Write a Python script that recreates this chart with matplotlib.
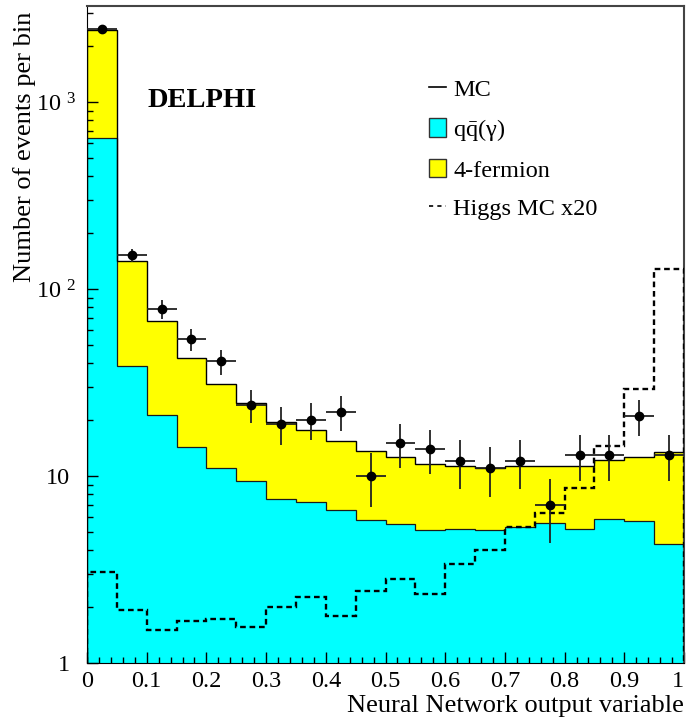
import matplotlib
matplotlib.use("Agg")
import matplotlib.pyplot as plt
import matplotlib.patches as mpatches
import matplotlib.lines as mlines
import matplotlib.transforms as mtransforms
from matplotlib.ticker import FixedLocator, FixedFormatter, LogLocator, NullFormatter, MultipleLocator
import numpy as np

plt.rcParams["font.family"] = ["Liberation Serif", "DejaVu Serif"]
plt.rcParams["mathtext.fontset"] = "custom"
plt.rcParams["mathtext.rm"] = "Liberation Serif"
plt.rcParams["mathtext.it"] = "Liberation Serif:italic"

# NN output bins (20 bins of 0.05)
bin_edges = np.linspace(0.0, 1.0, 21)

# background MC, stacked: qq(gamma) underneath, 4-fermion on top
qq_gamma = [642, 38.7, 21.2, 14.3, 11.0, 9.4, 7.5, 7.3, 6.55, 5.8,
            5.52, 5.14, 5.22, 5.14, 5.32, 5.59, 5.22, 5.89, 5.77, 4.33]
four_fermion = [1785, 102.3, 46.2, 28.5, 20.0, 15.1, 12.0, 10.3, 8.75, 7.8,
                7.18, 6.41, 6.08, 5.86, 5.98, 5.76, 6.13, 6.31, 6.93, 9.07]

# signal MC scaled x20
higgs_x20 = [3.08, 1.92, 1.50, 1.67, 1.72, 1.56, 1.99, 2.25, 1.78, 2.44,
             2.82, 2.34, 3.37, 4.0, 5.36, 6.32, 8.6, 14.5, 29.1, 128]

# data
data_x = [0.025, 0.075, 0.125, 0.175, 0.225, 0.275, 0.325, 0.375, 0.425, 0.475,
          0.525, 0.575, 0.625, 0.675, 0.725, 0.775, 0.825, 0.875, 0.925, 0.975]
data_n = [2450, 152, 78, 54, 41, 24, 19, 20, 22, 10,
          15, 14, 12, 11, 12, 7, 13, 13, 21, 13]
data_err = [49, 12.3, 8.8, 7.3, 6.4, 4.9, 4.4, 4.5, 4.7, 3.2,
            3.9, 3.7, 3.5, 3.3, 3.5, 2.6, 3.6, 3.6, 4.6, 3.6]

y_ticks = [1, 10, 100, 1000]
y_ticklabels = ["1", "10", r"$\mathregular{10^{\ \,2}}$", r"$\mathregular{10^{\ \,3}}$"]
x_ticks = [0, 0.1, 0.2, 0.3, 0.4, 0.5, 0.6, 0.7, 0.8, 0.9, 1.0]
x_ticklabels = ["0", "0.1", "0.2", "0.3", "0.4", "0.5", "0.6", "0.7", "0.8", "0.9", "1"]

YMIN, YMAX = 1.0, 3260.0

fig = plt.figure(figsize=(6.87, 7.22), dpi=100)
ax = fig.add_axes([87 / 687, 1 - 663 / 722, 597 / 687, 657 / 722])

qq = np.array(qq_gamma)
total = qq + np.array(four_fermion)

ax.stairs(qq, bin_edges, baseline=YMIN, fill=True, color="#00FFFF", zorder=1)
ax.stairs(total, bin_edges, baseline=qq, fill=True, color="#FFFF00", zorder=1)
ax.stairs(qq, bin_edges, baseline=None, color="#1a1a1a", lw=0.9, zorder=2)
ax.stairs(total, bin_edges, baseline=YMIN, color="black", lw=1.0, zorder=2)

ax.stairs(higgs_x20, bin_edges, baseline=YMIN, color="black", lw=1.7,
          linestyle=(0, (2.4, 1.6)), zorder=3)

ax.errorbar(data_x, data_n, yerr=data_err, xerr=0.025, fmt="o", color="black",
            ecolor="#222222", elinewidth=1.3, capsize=0, markersize=6, zorder=4)

ax.set_xlim(0, 1)
ax.set_ylim(YMIN, YMAX)
ax.set_yscale("log")

ax.yaxis.set_major_locator(FixedLocator(y_ticks))
ax.yaxis.set_major_formatter(FixedFormatter(y_ticklabels))
ax.yaxis.set_minor_locator(LogLocator(base=10, subs=np.arange(2, 10)))
ax.yaxis.set_minor_formatter(NullFormatter())
ax.xaxis.set_major_locator(FixedLocator(x_ticks))
ax.xaxis.set_major_formatter(FixedFormatter(x_ticklabels))
ax.xaxis.set_minor_locator(MultipleLocator(0.02))

ax.tick_params(which="both", direction="in", top=False, right=False, labelsize=17.5)
ax.tick_params(which="major", length=8, width=1)
ax.tick_params(which="minor", length=4, width=1)
ax.tick_params(axis="x", pad=6)
ax.tick_params(axis="y", pad=12)
ax.get_xticklabels()[-1].set_horizontalalignment("right")

# exponent labels sit a bit further right, as in the original
shift = mtransforms.ScaledTranslation(6 / 100, 0, fig.dpi_scale_trans)
for lab in ax.get_yticklabels()[2:]:
    lab.set_transform(lab.get_transform() + shift)

for side in ["top", "right"]:
    ax.spines[side].set_color("#444444")
    ax.spines[side].set_linewidth(1.5)

ax.set_xlabel("Neural Network output variable", fontsize=19, loc="right", labelpad=2)
ax.set_ylabel("Number of events per bin", fontsize=19)
ax.yaxis.set_label_coords(-62 / 597, 1.0)
ax.yaxis.label.set_verticalalignment("center")
ax.yaxis.label.set_horizontalalignment("right")
ax.yaxis.label.set_y(1 - 6 / 657)

ax.text(148 / 687, 1 - 107 / 722, "DELPHI", transform=fig.transFigure,
        fontsize=20.5, fontweight="bold", ha="left", va="baseline")

handles = [
    mlines.Line2D([], [], color="black", lw=1.2),
    mpatches.Patch(facecolor="#00FFFF", edgecolor="#333333", lw=1.0),
    mpatches.Patch(facecolor="#FFFF00", edgecolor="#333333", lw=1.0),
    mlines.Line2D([], [], color="black", lw=1.2, linestyle=(0, (2.5, 2.5))),
]
labels = ["MC", r"$\mathregular{q\bar{q}(\gamma)}$", "4-fermion", "Higgs MC x20"]
leg = ax.legend(handles, labels, loc="upper left", bbox_to_anchor=(412 / 687, 1 - 61 / 722),
                bbox_transform=fig.transFigure, frameon=False, fontsize=17.5,
                handlelength=0.7, handleheight=0.8, handletextpad=0.3, labelspacing=0.66,
                borderpad=0.2)

fig.savefig("out.png", dpi=100)
